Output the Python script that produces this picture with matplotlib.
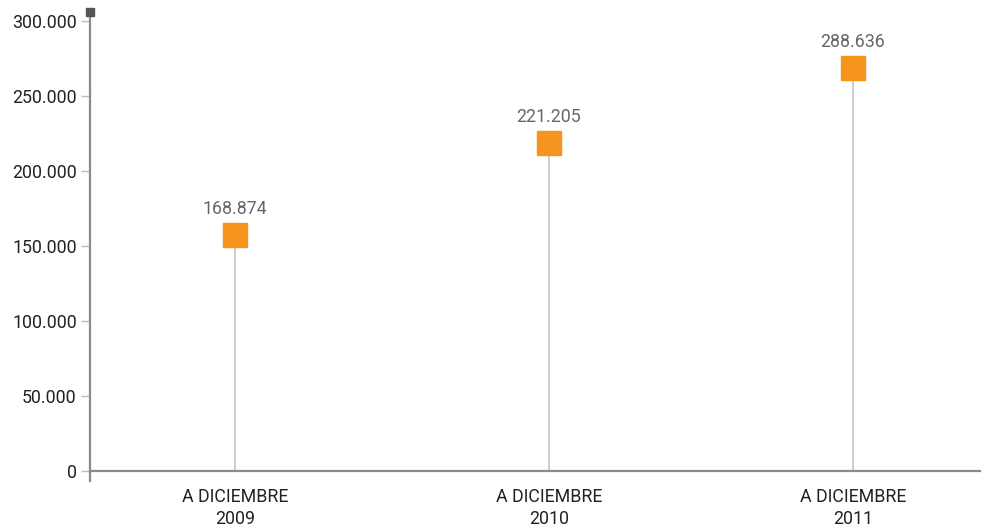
import matplotlib
matplotlib.use('Agg')
import matplotlib.pyplot as plt
from matplotlib.ticker import FuncFormatter

categories = ['A DICIEMBRE\n2009', 'A DICIEMBRE\n2010', 'A DICIEMBRE\n2011']
# marker heights as drawn in the picture, and the printed labels
marker_values = [157300, 218700, 268700]
value_labels = ['168.874', '221.205', '288.636']
y_ticks = [0, 50000, 100000, 150000, 200000, 250000, 300000]

plt.rcParams['font.family'] = ['Roboto', 'DejaVu Sans']

fig = plt.figure(figsize=(9.82, 5.28), dpi=100)
ax = fig.add_axes([90 / 982, 47 / 528, 890 / 982, 469 / 528])

x = [0, 1.016, 2]
ax.vlines(x, 0, marker_values, color='#c8c8c8', lw=1.3, zorder=1)
ax.plot(x, marker_values, ls='none', marker='s', ms=17.5, color='#f7941d',
        mec='#f7941d', zorder=3)
for xi, v, lab in zip(x, marker_values, value_labels):
    ax.annotate(lab, (xi, v), xytext=(0, 19), textcoords='offset points',
                ha='center', va='center', fontsize=12.8, color='#666666')

ax.set_xlim(-0.469, 2.411)
ax.set_ylim(-6700, 306000)
ax.set_yticks(y_ticks)
ax.yaxis.set_major_formatter(FuncFormatter(lambda v, p: f'{int(v):,}'.replace(',', '.')))
ax.set_xticks(x)
ax.set_xticklabels(categories)

for s in ['top', 'right']:
    ax.spines[s].set_visible(False)
ax.spines['bottom'].set_position(('data', 0))
ax.spines['left'].set_color('#8a8a8a')
ax.spines['bottom'].set_color('#8a8a8a')
ax.spines['left'].set_linewidth(1.6)
ax.spines['bottom'].set_linewidth(1.6)

ax.tick_params(axis='y', length=6.5, width=1, color='#bdbdbd', labelsize=12.8,
               labelcolor='#222222', pad=3)
ax.tick_params(axis='x', length=0, labelsize=12.8, labelcolor='#222222', pad=12)
for t in ax.get_xticklabels():
    t.set_linespacing(1.3)

# small square cap at the top of the value axis
ax.plot(0, 1, marker='s', ms=5.5, color='#555555', transform=ax.transAxes,
        clip_on=False, zorder=5)

fig.savefig('out.png', dpi=100)
